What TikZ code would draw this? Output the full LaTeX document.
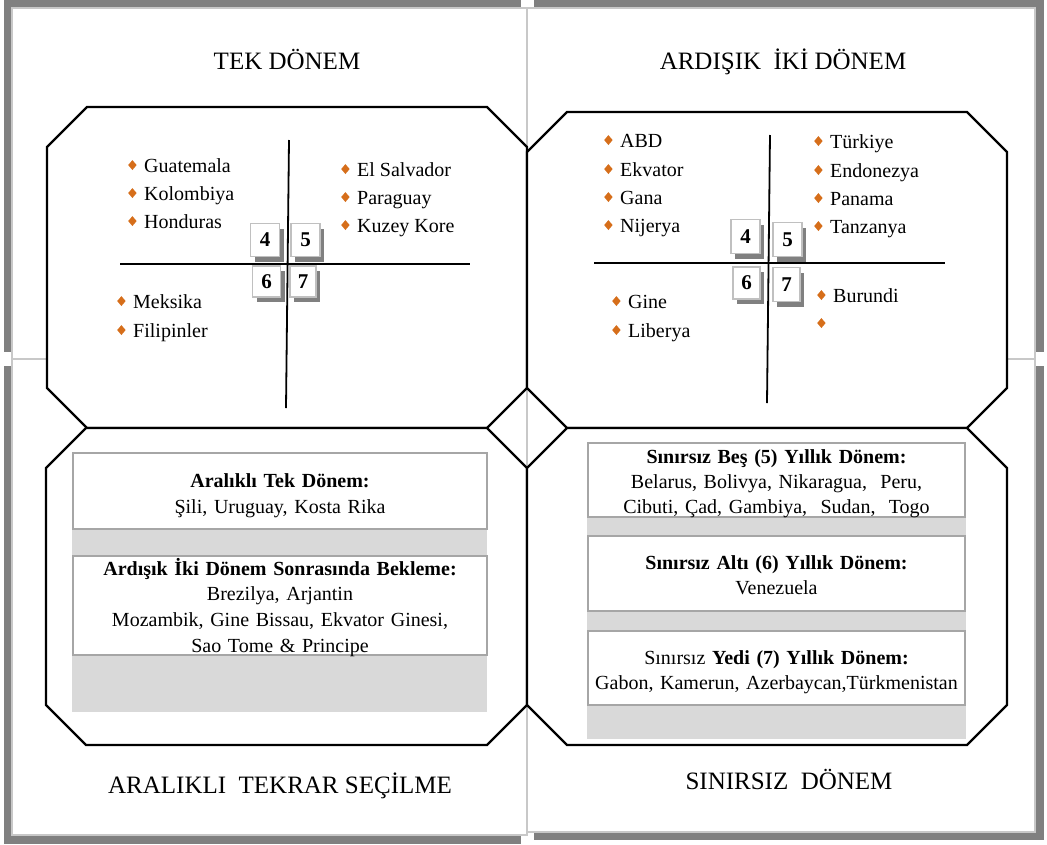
\documentclass[tikz,border=0pt]{standalone}
\usepackage{fontspec}
\usepackage{graphicx}
\setmainfont{Liberation Serif}
\usetikzlibrary{shadows}

\definecolor{shadowgray}{RGB}{128,128,128}
\definecolor{framegray}{RGB}{200,200,200}
\definecolor{numgray}{RGB}{192,192,192}
\definecolor{boxgray}{RGB}{166,166,166}
\definecolor{fillgray}{RGB}{217,217,217}
\definecolor{bulorange}{RGB}{214,110,26}

\newcommand{\bul}{\makebox[16pt][l]{\raisebox{2pt}{\textcolor{bulorange}{\scalebox{0.85}[1.0]{\rotatebox{45}{\rule{7pt}{7pt}}}}}}}

\tikzset{
  panelshadow/.style={fill=shadowgray},
  panel/.style={fill=white, draw=framegray, line width=1.5pt},
  octa/.style={fill=white, draw=black, line width=2.3pt, line join=miter},
  axis/.style={draw=black, line width=1.8pt},
  heading/.style={anchor=base, inner sep=0pt, font=\fontsize{25}{30}\selectfont},
  item/.style={anchor=base west, inner sep=0pt, font=\fontsize{20}{24}\selectfont},
  numbox/.style={draw=numgray, line width=1.5pt, fill=white, inner sep=0pt,
    font=\fontsize{21}{21}\selectfont\bfseries,
    drop shadow={shadow xshift=4pt, shadow yshift=-5pt, fill=shadowgray, opacity=1}},
  infobox/.style={draw=boxgray, line width=1.5pt, fill=white, inner sep=0pt},
  boxtext/.style={anchor=base, inner sep=0pt, text width=400pt, align=center}
}

\begin{document}
\begin{tikzpicture}[x=1pt, y=-1pt]
      \useasboundingbox (0,0) rectangle (1047,844);
      \fill[panelshadow] (4,0) rectangle (521,352);
      \draw[panel] (12,8) rectangle (527,359);
      \fill[panelshadow] (534,0) rectangle (1044,352);
      \draw[panel] (527,8) rectangle (1035,359);
      \fill[panelshadow] (4,366) rectangle (521,844);
      \draw[panel] (12,359) rectangle (527,835);
      \fill[panelshadow] (534,366) rectangle (1044,840);
      \draw[panel] (527,359) rectangle (1035,832);

      \draw[octa] (87,107) -- (487,107) -- (527,147) -- (527,388) -- (487,428) -- (87,428) -- (47,388) -- (47,147) -- cycle;
      \draw[octa] (567,112) -- (967,112) -- (1007,152) -- (1007,388) -- (967,428) -- (567,428) -- (527,388) -- (527,152) -- cycle;
      \draw[octa] (86,428) -- (487,428) -- (527,468) -- (527,705) -- (487,745) -- (86,745) -- (46,705) -- (46,468) -- cycle;
      \draw[octa] (567,428) -- (967,428) -- (1007,468) -- (1007,705) -- (967,745) -- (567,745) -- (527,705) -- (527,468) -- cycle;

      \draw
        (287,69) node[heading] (tektitle){TEK DÖNEM}
        (783,69) node[heading] (ikititle){ARDIŞIK\ \ İKİ DÖNEM}
        (280,793) node[heading] (araliktitle){ARALIKLI\ \ TEKRAR SEÇİLME}
        (789,789) node[heading] (sinirtitle){SINIRSIZ\ \ DÖNEM};

      \coordinate (tekN) at (289,140);
      \coordinate (tekS) at (286,408);
      \coordinate (tekW) at (120,264);
      \coordinate (tekE) at (470,264);
      \coordinate (ikiN) at (770,135);
      \coordinate (ikiS) at (767,403);
      \coordinate (ikiW) at (594,263);
      \coordinate (ikiE) at (945,263);
      \begin{scope}[axis]
        \draw (tekN) to (tekS);
        \draw (tekW) to (tekE);
        \draw (ikiN) to (ikiS);
        \draw (ikiW) to (ikiE);
      \end{scope}

      \draw
        (128,172) node[item] (guatemala){\bul Guatemala}
        (128,200) node[item] (kolombiya){\bul Kolombiya}
        (128,228) node[item] (honduras){\bul Honduras}
        (341,176) node[item] (elsalvador){\bul El Salvador}
        (341,204) node[item] (paraguay){\bul Paraguay}
        (341,232) node[item] (kuzeykore){\bul Kuzey Kore}
        (117,308) node[item] (meksika){\bul Meksika}
        (117,337) node[item] (filipinler){\bul Filipinler};

      \draw
        (604,147) node[item] (abd){\bul ABD}
        (604,176) node[item] (ekvator){\bul Ekvator}
        (604,204) node[item] (gana){\bul Gana}
        (604,232) node[item] (nijerya){\bul Nijerya}
        (814,148) node[item] (turkiye){\bul Türkiye}
        (814,177) node[item] (endonezya){\bul Endonezya}
        (814,205) node[item] (panama){\bul Panama}
        (814,233) node[item] (tanzanya){\bul Tanzanya}
        (612,308) node[item] (gine){\bul Gine}
        (612,337) node[item] (liberya){\bul Liberya}
        (817,302) node[item] (burundi){\bul Burundi}
        (817,330) node[item] (bos){\bul};

      \draw
        (265,240) node[numbox, minimum width=29pt, minimum height=33pt] (tek4){4}
        (305.5,240) node[numbox, minimum width=29pt, minimum height=33pt] (tek5){5}
        (266.5,281.5) node[numbox, minimum width=28pt, minimum height=31pt] (tek6){6}
        (303,281.5) node[numbox, minimum width=26pt, minimum height=31pt] (tek7){7}
        (745.5,236.5) node[numbox, minimum width=29pt, minimum height=34pt] (iki4){4}
        (787.5,239.5) node[numbox, minimum width=29pt, minimum height=34pt] (iki5){5}
        (746.5,283) node[numbox, minimum width=27pt, minimum height=32pt] (iki6){6}
        (786.5,284.5) node[numbox, minimum width=27pt, minimum height=34pt] (iki7){7};

      \fill[fillgray] (72,453) rectangle (487,712);
      \fill[fillgray] (587,443) rectangle (966,739);

      \draw
        (280,491) node[infobox, minimum width=414pt, minimum height=76pt] (aralikbox){}
        (280,605.5) node[infobox, minimum width=414pt, minimum height=99pt] (beklebox){}
        (776.5,480) node[infobox, minimum width=377pt, minimum height=74pt] (besbox){}
        (776.5,573.5) node[infobox, minimum width=377pt, minimum height=75pt] (altibox){}
        (776.5,668) node[infobox, minimum width=377pt, minimum height=74pt] (yedibox){};

      \draw
        (280,487) node[boxtext, font=\fontsize{20}{26}\selectfont] (araliktext){\textbf{Aralıklı Tek Dönem:}\\Şili, Uruguay, Kosta Rika}
        (280,575) node[boxtext, font=\fontsize{20}{25.7}\selectfont] (bekletext){\textbf{Ardışık İki Dönem Sonrasında Bekleme:}\\Brezilya, Arjantin\\Mozambik, Gine Bissau, Ekvator Ginesi,\\Sao Tome \& Principe}
        (776.5,463) node[boxtext, font=\fontsize{20}{25}\selectfont] (bestext){\textbf{Sınırsız Beş (5) Yıllık Dönem:}\\Belarus, Bolivya, Nikaragua,\ \ Peru,\\Cibuti, Çad, Gambiya,\ \ Sudan,\ \ Togo}
        (776.5,569) node[boxtext, font=\fontsize{20}{25}\selectfont] (altitext){\textbf{Sınırsız Altı (6) Yıllık Dönem:}\\Venezuela}
        (776.5,664) node[boxtext, font=\fontsize{20}{25}\selectfont] (yeditext){Sınırsız \textbf{Yedi (7) Yıllık Dönem:}\\Gabon, Kamerun, Azerbaycan,Türkmenistan};
\end{tikzpicture}
\end{document}
